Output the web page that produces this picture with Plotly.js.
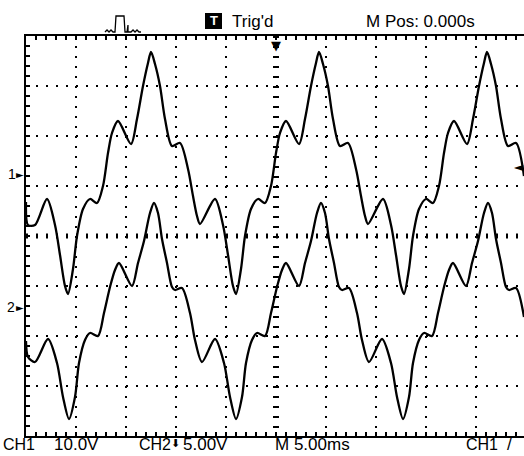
<!DOCTYPE html>
<html><head><meta charset="utf-8">
<script src="https://cdn.plot.ly/plotly-3.0.1.min.js"></script>
<style>html,body{margin:0;padding:0;background:#fff;overflow:hidden}#plot{width:524px;height:456px}</style>
</head><body><div id="plot"></div>
<script>
// Time in ms (0 = trigger point), voltages in V relative to each channel's ground marker
const ch1Time = [
-25.0,-24.8,-24.1,-22.9,-22.1,-21.6,-21.1,-20.8,-20.3,-19.9,-19.3,-18.6,-17.9,-17.3,-16.8,-16.4,-15.8,-14.5,-13.9,-13.3,-12.8,-12.5,-12.1,-11.6,-11.1,-10.4,-9.6,-8.8,-8.3,-7.9,-7.6,
-6.1,-5.3,-4.8,-4.3,-4.0,-3.5,-3.1,-2.5,-1.8,-1.1,-0.5,0.0,0.4,1.0,2.3,2.9,3.5,4.0,4.3,4.7,5.2,5.7,6.4,7.2,8.0,8.5,8.9,9.2,
10.7,11.5,12.0,12.5,12.8,13.3,13.7,14.3,15.0,15.7,16.3,16.8,17.2,17.8,19.1,19.7,20.3,20.8,21.1,21.5,22.0,22.5,23.2,24.0,24.8];
const ch1Volts = [
-5.6,-10.2,-10.2,-5.0,-10.2,-16.2,-22.4,-24.0,-19.0,-12.4,-7.0,-5.0,-5.8,-2.4,4.2,8.2,10.6,6.0,11.0,17.6,22.2,24.4,22.0,17.6,11.0,5.6,6.2,1.0,-4.4,-8.4,-10.0,
-5.0,-10.2,-16.2,-22.4,-24.0,-19.0,-12.4,-7.0,-5.0,-5.8,-2.4,4.2,8.2,10.6,6.0,11.0,17.6,22.2,24.4,22.0,17.6,11.0,5.6,6.2,1.0,-4.4,-8.4,-10.0,
-5.0,-10.2,-16.2,-22.4,-24.0,-19.0,-12.4,-7.0,-5.0,-5.8,-2.4,4.2,8.2,10.6,6.0,11.0,17.6,22.2,24.4,22.0,17.6,11.0,5.6,6.2,-0.4];
const ch2Time = [
-25.0,-24.8,-24.1,-22.8,-21.9,-21.3,-20.7,-20.1,-19.7,-19.1,-18.6,-17.8,-17.2,-16.6,-16.1,-15.7,-14.4,-13.8,-13.2,-12.6,-12.2,-11.8,-11.4,-10.9,-10.4,-10.1,-9.4,-8.6,-8.1,-7.4,
-6.1,-5.2,-4.6,-4.0,-3.4,-3.0,-2.4,-1.9,-1.1,-0.5,0.1,0.6,1.0,2.3,2.9,3.5,4.1,4.5,4.9,5.3,5.8,6.3,6.6,7.3,8.1,8.6,9.3,
10.6,11.5,12.1,12.7,13.3,13.7,14.3,14.8,15.6,16.2,16.8,17.3,17.7,19.0,19.6,20.2,20.8,21.2,21.6,22.0,22.5,23.0,23.3,24.0,24.8];
const ch2Volts = [
-3.4,-5.0,-5.5,-3.2,-5.6,-9.0,-11.2,-9.0,-5.6,-3.3,-2.6,-2.9,-0.6,2.0,3.7,4.4,2.1,4.4,6.6,9.4,10.4,9.4,6.8,4.4,2.0,1.7,1.9,-0.6,-3.3,-5.5,
-3.2,-5.6,-9.0,-11.2,-9.0,-5.6,-3.3,-2.6,-2.9,-0.6,2.0,3.7,4.4,2.1,4.4,6.6,9.4,10.4,9.4,6.8,4.4,2.0,1.7,1.9,-0.6,-3.3,-5.5,
-3.2,-5.6,-9.0,-11.2,-9.0,-5.6,-3.3,-2.6,-2.9,-0.6,2.0,3.7,4.4,2.1,4.4,6.6,9.4,10.4,9.4,6.8,4.4,2.0,1.7,1.9,-1.0];

const ch1VoltsPerDiv = 10, ch2VoltsPerDiv = 5;
const ch1GroundDiv = 1.24, ch2GroundDiv = -1.42;
const trigLevelVolts = 1.4;
const statusTrig = "Trig'd", statusPos = "M Pos: 0.000s";
const labelCh1 = "CH1", labelCh1Scale = "10.0V", labelCh2 = "CH2", labelCh2Scale = "5.00V";
const labelTime = "M 5.00ms", labelTrigSrc = "CH1";

// pixel helpers for decorations
const L = 26, T = 36, W = 498, H = 400;
const px = p => (p - L) / W, py = p => (T + H - p) / H;
const FONT = 'Liberation Sans, Arial, sans-serif';

const traces = [
  {x: ch1Time, y: ch1Volts, yaxis: 'y2', type: 'scatter', mode: 'lines',
   line: {color: '#000', width: 2.3, shape: 'spline', smoothing: 0.8}, hoverinfo: 'skip'},
  {x: ch2Time, y: ch2Volts, yaxis: 'y3', type: 'scatter', mode: 'lines',
   line: {color: '#000', width: 2.3, shape: 'spline', smoothing: 0.8}, hoverinfo: 'skip'}
];

const ann = (text, x, y, opts) => Object.assign({text, x, y, xref: 'paper', yref: 'paper', showarrow: false,
  xanchor: 'left', yanchor: 'middle', font: {family: FONT, size: 17, color: '#000'}}, opts || {});
const small = {font: {family: FONT, size: 16, color: '#000'}};

const iconPts = [[105,32],[107,30],[109,32],[111,30],[113,32],[115,32],[116,16],[124,16],[125,32],[127,32],[128,25],[128,32],[131,32],[133,30],[135,32],[137,30],[139,32],[141,32]];
const iconPath = iconPts.map((p, i) => (i ? 'L' : 'M') + px(p[0]).toFixed(4) + ',' + py(p[1]).toFixed(4)).join(' ');

const layout = {
  width: 524, height: 456,
  margin: {l: L, r: 0, t: T, b: 456 - T - H, autoexpand: false},
  paper_bgcolor: '#fff', plot_bgcolor: '#fff', showlegend: false,
  xaxis: {range: [-25, 24.8], tick0: 0, dtick: 5, showgrid: true, gridcolor: '#000', gridwidth: 2, griddash: '2px,8px',
    zeroline: false, showticklabels: false, ticks: 'inside', ticklen: 4, tickwidth: 2, tickcolor: '#000',
    showline: true, linecolor: '#000', linewidth: 2, mirror: 'ticks', fixedrange: true,
    minor: {dtick: 1, ticks: 'inside', ticklen: 4, tickwidth: 2, tickcolor: '#000', showgrid: false}},
  yaxis: {range: [-4, 4], tick0: 0, dtick: 1, showgrid: true, gridcolor: '#000', gridwidth: 2, griddash: '2px,8px',
    zeroline: false, showticklabels: false, ticks: 'inside', ticklen: 4, tickwidth: 2, tickcolor: '#000',
    showline: true, linecolor: '#000', linewidth: 2, fixedrange: true,
    minor: {dtick: 0.2, ticks: 'inside', ticklen: 4, tickwidth: 2, tickcolor: '#000', showgrid: false}},
  yaxis2: {overlaying: 'y', visible: false, fixedrange: true,
    range: [(-4 - ch1GroundDiv) * ch1VoltsPerDiv, (4 - ch1GroundDiv) * ch1VoltsPerDiv]},
  yaxis3: {overlaying: 'y', visible: false, fixedrange: true,
    range: [(-4 - ch2GroundDiv) * ch2VoltsPerDiv, (4 - ch2GroundDiv) * ch2VoltsPerDiv]},
  shapes: [
    {type: 'line', xref: 'x', yref: 'y', x0: 0, x1: 0, y0: 4, y1: -4, line: {color: '#000', width: 6, dash: '2px,8px'}},
    {type: 'line', xref: 'x', yref: 'y', x0: -25, x1: 24.8, y0: 0, y1: 0, line: {color: '#000', width: 5, dash: '2px,8px'}},
    {type: 'path', xref: 'paper', yref: 'paper', path: iconPath, line: {color: '#000', width: 1.3}},
    {type: 'rect', xref: 'paper', yref: 'paper', x0: px(205), x1: px(222), y0: py(29), y1: py(13), fillcolor: '#000', line: {width: 0}}
  ],
  annotations: [
    ann('<b>T</b>', px(213.5), py(21), {xanchor: 'center', font: {family: FONT, size: 13, color: '#fff'}}),
    ann(statusTrig, px(230), py(21.5)),
    ann(statusPos, px(364), py(21.5)),
    ann(labelCh1, px(1), py(444), small),
    ann(labelCh1Scale, px(52), py(444)),
    ann(labelCh2, px(137), py(444), small),
    ann('⬇', px(175), py(443), {xanchor: 'center', font: {family: 'DejaVu Sans', size: 11, color: '#000'}}),
    ann(labelCh2Scale, px(181), py(444)),
    ann(labelTime, px(273), py(444)),
    ann(labelTrigSrc, px(464), py(444), small),
    ann('/', px(505), py(444)),
    // channel ground markers
    {text: '1', x: px(12), y: 0, xref: 'paper', yref: 'y2', showarrow: false, xanchor: 'center', yanchor: 'middle',
     font: {family: FONT, size: 14, color: '#000'}},
    {text: '►', x: px(26), y: 0, xref: 'paper', yref: 'y2', showarrow: false, xanchor: 'right', yanchor: 'middle',
     font: {family: 'DejaVu Sans', size: 10, color: '#000'}},
    {text: '2', x: px(11), y: 0, xref: 'paper', yref: 'y3', showarrow: false, xanchor: 'center', yanchor: 'middle',
     font: {family: FONT, size: 14, color: '#000'}},
    {text: '►', x: px(26), y: 0, xref: 'paper', yref: 'y3', showarrow: false, xanchor: 'right', yanchor: 'middle',
     font: {family: 'DejaVu Sans', size: 10, color: '#000'}},
    // trigger level (right) and trigger position (top)
    {text: '◄', x: px(519), y: trigLevelVolts, xref: 'paper', yref: 'y2', showarrow: false, xanchor: 'center', yanchor: 'middle',
     font: {family: 'DejaVu Sans', size: 12, color: '#000'}},
    {text: '▼', x: 0, y: 1, xref: 'x', yref: 'paper', showarrow: false, xanchor: 'center', yanchor: 'top', yshift: 0,
     font: {family: 'DejaVu Sans', size: 13, color: '#000'}}
  ]
};

Plotly.newPlot('plot', traces, layout, {staticPlot: true, displayModeBar: false});
</script></body></html>
